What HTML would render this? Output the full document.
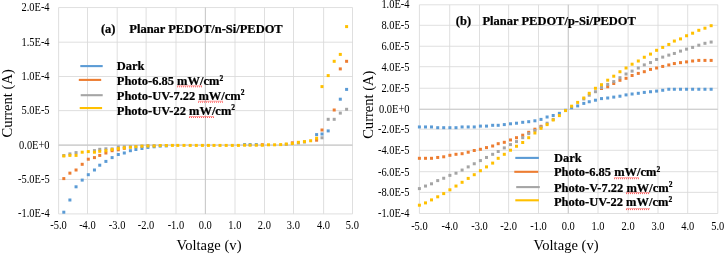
<!DOCTYPE html>
<html><head><meta charset="utf-8"><title>I-V curves</title>
<style>html,body{margin:0;padding:0;background:#fff;}svg{display:block;will-change:transform;}text{font-family:"Liberation Serif","DejaVu Serif",serif;fill:#000;}</style>
</head><body>
<svg width="725" height="254" viewBox="0 0 725 254">
<rect x="0" y="0" width="725" height="254" fill="#fff"/>
<g stroke="#D9D9D9" stroke-width="0.85" fill="none"><line x1="58.60" y1="7.56" x2="58.60" y2="213.90"/><line x1="87.50" y1="7.56" x2="87.50" y2="213.90"/><line x1="117.20" y1="7.56" x2="117.20" y2="213.90"/><line x1="146.10" y1="7.56" x2="146.10" y2="213.90"/><line x1="176.00" y1="7.56" x2="176.00" y2="213.90"/><line x1="205.40" y1="7.56" x2="205.40" y2="213.90"/><line x1="235.00" y1="7.56" x2="235.00" y2="213.90"/><line x1="264.50" y1="7.56" x2="264.50" y2="213.90"/><line x1="293.50" y1="7.56" x2="293.50" y2="213.90"/><line x1="323.60" y1="7.56" x2="323.60" y2="213.90"/><line x1="352.50" y1="7.56" x2="352.50" y2="213.90"/><line x1="58.60" y1="7.56" x2="352.50" y2="7.56"/><line x1="58.60" y1="42.20" x2="352.50" y2="42.20"/><line x1="58.60" y1="76.50" x2="352.50" y2="76.50"/><line x1="58.60" y1="110.60" x2="352.50" y2="110.60"/><line x1="58.60" y1="145.10" x2="352.50" y2="145.10"/><line x1="58.60" y1="179.45" x2="352.50" y2="179.45"/><line x1="58.60" y1="213.90" x2="352.50" y2="213.90"/></g>
<g stroke="#CACACA" stroke-width="1.05" fill="none"><line x1="205.40" y1="7.56" x2="205.40" y2="213.90"/><line x1="58.60" y1="145.10" x2="352.50" y2="145.10"/></g>
<text transform="translate(49.60,11.30) scale(1.0,1.1)" font-size="10.45" text-anchor="end">2.0E-4</text>
<text transform="translate(49.60,46.10) scale(1.0,1.1)" font-size="10.45" text-anchor="end">1.5E-4</text>
<text transform="translate(49.60,79.70) scale(1.0,1.1)" font-size="10.45" text-anchor="end">1.0E-4</text>
<text transform="translate(49.60,113.90) scale(1.0,1.1)" font-size="10.45" text-anchor="end">5.0E-5</text>
<text transform="translate(49.60,148.50) scale(1.0,1.1)" font-size="10.45" text-anchor="end">0.0E+0</text>
<text transform="translate(49.60,183.00) scale(1.0,1.1)" font-size="10.45" text-anchor="end">-5.0E-5</text>
<text transform="translate(49.60,216.90) scale(1.0,1.1)" font-size="10.45" text-anchor="end">-1.0E-4</text>
<text transform="translate(58.50,229.30) scale(1.0,1.1)" font-size="10.45" text-anchor="middle">-5.0</text>
<text transform="translate(87.40,229.30) scale(1.0,1.1)" font-size="10.45" text-anchor="middle">-4.0</text>
<text transform="translate(117.10,229.30) scale(1.0,1.1)" font-size="10.45" text-anchor="middle">-3.0</text>
<text transform="translate(146.00,229.30) scale(1.0,1.1)" font-size="10.45" text-anchor="middle">-2.0</text>
<text transform="translate(175.90,229.30) scale(1.0,1.1)" font-size="10.45" text-anchor="middle">-1.0</text>
<text transform="translate(205.30,229.30) scale(1.0,1.1)" font-size="10.45" text-anchor="middle">0.0</text>
<text transform="translate(234.90,229.30) scale(1.0,1.1)" font-size="10.45" text-anchor="middle">1.0</text>
<text transform="translate(264.40,229.30) scale(1.0,1.1)" font-size="10.45" text-anchor="middle">2.0</text>
<text transform="translate(293.40,229.30) scale(1.0,1.1)" font-size="10.45" text-anchor="middle">3.0</text>
<text transform="translate(323.50,229.30) scale(1.0,1.1)" font-size="10.45" text-anchor="middle">4.0</text>
<text transform="translate(352.40,229.30) scale(1.0,1.1)" font-size="10.45" text-anchor="middle">5.0</text>
<text transform="translate(209.00,249.60) scale(1.0,0.97)" font-size="14.6" text-anchor="middle">Voltage (v)</text>
<text transform="translate(12.4,103.4) rotate(-90)" font-size="14.55" text-anchor="middle">Current (A)</text>
<g fill="#5B9BD5"><rect x="62.30" y="210.70" width="3.0" height="3.0"/><rect x="68.40" y="198.50" width="3.0" height="3.0"/><rect x="74.55" y="185.30" width="3.0" height="3.0"/><rect x="80.70" y="178.60" width="3.0" height="3.0"/><rect x="86.80" y="173.20" width="3.0" height="3.0"/><rect x="92.95" y="168.50" width="3.0" height="3.0"/><rect x="98.25" y="163.70" width="3.0" height="3.0"/><rect x="104.40" y="159.90" width="3.0" height="3.0"/><rect x="110.60" y="156.10" width="3.0" height="3.0"/><rect x="116.80" y="153.00" width="3.0" height="3.0"/><rect x="122.80" y="151.50" width="3.0" height="3.0"/><rect x="128.90" y="149.20" width="3.0" height="3.0"/><rect x="134.40" y="148.00" width="3.0" height="3.0"/><rect x="140.45" y="147.00" width="3.0" height="3.0"/><rect x="146.40" y="145.90" width="3.0" height="3.0"/><rect x="152.60" y="145.30" width="3.0" height="3.0"/><rect x="158.70" y="144.60" width="3.0" height="3.0"/><rect x="164.80" y="144.40" width="3.0" height="3.0"/><rect x="243.10" y="143.10" width="3.0" height="3.0"/><rect x="248.60" y="143.10" width="3.0" height="3.0"/><rect x="254.80" y="143.10" width="3.0" height="3.0"/><rect x="315.10" y="133.10" width="3.0" height="3.0"/><rect x="320.50" y="132.50" width="3.0" height="3.0"/><rect x="326.70" y="129.40" width="3.0" height="3.0"/><rect x="338.80" y="97.70" width="3.0" height="3.0"/><rect x="345.10" y="87.90" width="3.0" height="3.0"/></g>
<g fill="#ED7D31"><rect x="62.30" y="177.10" width="3.0" height="3.0"/><rect x="68.40" y="171.65" width="3.0" height="3.0"/><rect x="74.55" y="168.50" width="3.0" height="3.0"/><rect x="80.70" y="162.80" width="3.0" height="3.0"/><rect x="86.80" y="157.70" width="3.0" height="3.0"/><rect x="92.95" y="156.10" width="3.0" height="3.0"/><rect x="98.25" y="153.90" width="3.0" height="3.0"/><rect x="104.40" y="151.50" width="3.0" height="3.0"/><rect x="110.60" y="149.20" width="3.0" height="3.0"/><rect x="116.80" y="148.30" width="3.0" height="3.0"/><rect x="122.80" y="146.80" width="3.0" height="3.0"/><rect x="260.80" y="143.20" width="3.0" height="3.0"/><rect x="290.85" y="141.30" width="3.0" height="3.0"/><rect x="315.10" y="138.70" width="3.0" height="3.0"/><rect x="320.50" y="128.50" width="3.0" height="3.0"/><rect x="332.70" y="108.50" width="3.0" height="3.0"/><rect x="338.80" y="67.40" width="3.0" height="3.0"/><rect x="345.10" y="59.80" width="3.0" height="3.0"/></g>
<g fill="#A5A5A5"><rect x="62.30" y="154.00" width="3.0" height="3.0"/><rect x="68.40" y="152.40" width="3.0" height="3.0"/><rect x="74.55" y="151.10" width="3.0" height="3.0"/><rect x="92.95" y="149.10" width="3.0" height="3.0"/><rect x="98.25" y="147.80" width="3.0" height="3.0"/><rect x="104.40" y="147.30" width="3.0" height="3.0"/><rect x="110.60" y="147.40" width="3.0" height="3.0"/><rect x="116.80" y="145.50" width="3.0" height="3.0"/><rect x="122.80" y="145.30" width="3.0" height="3.0"/><rect x="128.90" y="145.20" width="3.0" height="3.0"/><rect x="134.40" y="145.00" width="3.0" height="3.0"/><rect x="140.45" y="144.60" width="3.0" height="3.0"/><rect x="146.40" y="144.20" width="3.0" height="3.0"/><rect x="152.60" y="144.20" width="3.0" height="3.0"/><rect x="284.80" y="142.90" width="3.0" height="3.0"/><rect x="296.90" y="141.50" width="3.0" height="3.0"/><rect x="302.95" y="140.50" width="3.0" height="3.0"/><rect x="320.50" y="136.30" width="3.0" height="3.0"/><rect x="326.70" y="117.80" width="3.0" height="3.0"/><rect x="332.70" y="117.80" width="3.0" height="3.0"/><rect x="338.80" y="111.60" width="3.0" height="3.0"/><rect x="345.10" y="107.80" width="3.0" height="3.0"/></g>
<g fill="#FFC000"><rect x="62.30" y="154.50" width="3.0" height="3.0"/><rect x="68.40" y="153.90" width="3.0" height="3.0"/><rect x="74.55" y="153.90" width="3.0" height="3.0"/><rect x="80.70" y="150.70" width="3.0" height="3.0"/><rect x="86.80" y="150.10" width="3.0" height="3.0"/><rect x="92.95" y="150.70" width="3.0" height="3.0"/><rect x="98.25" y="149.80" width="3.0" height="3.0"/><rect x="104.40" y="149.20" width="3.0" height="3.0"/><rect x="110.60" y="148.00" width="3.0" height="3.0"/><rect x="116.80" y="147.10" width="3.0" height="3.0"/><rect x="122.80" y="146.30" width="3.0" height="3.0"/><rect x="128.90" y="145.80" width="3.0" height="3.0"/><rect x="134.40" y="145.20" width="3.0" height="3.0"/><rect x="140.45" y="144.70" width="3.0" height="3.0"/><rect x="146.40" y="144.50" width="3.0" height="3.0"/><rect x="152.60" y="144.50" width="3.0" height="3.0"/><rect x="158.70" y="144.00" width="3.0" height="3.0"/><rect x="164.80" y="144.00" width="3.0" height="3.0"/><rect x="170.90" y="143.90" width="3.0" height="3.0"/><rect x="176.30" y="143.90" width="3.0" height="3.0"/><rect x="182.50" y="143.90" width="3.0" height="3.0"/><rect x="188.70" y="143.90" width="3.0" height="3.0"/><rect x="194.80" y="143.90" width="3.0" height="3.0"/><rect x="200.90" y="143.90" width="3.0" height="3.0"/><rect x="206.90" y="143.90" width="3.0" height="3.0"/><rect x="212.50" y="143.90" width="3.0" height="3.0"/><rect x="218.50" y="143.90" width="3.0" height="3.0"/><rect x="224.70" y="143.90" width="3.0" height="3.0"/><rect x="230.80" y="143.90" width="3.0" height="3.0"/><rect x="236.90" y="143.90" width="3.0" height="3.0"/><rect x="243.10" y="143.70" width="3.0" height="3.0"/><rect x="248.60" y="143.70" width="3.0" height="3.0"/><rect x="254.80" y="143.70" width="3.0" height="3.0"/><rect x="260.80" y="143.70" width="3.0" height="3.0"/><rect x="267.00" y="143.30" width="3.0" height="3.0"/><rect x="273.10" y="143.30" width="3.0" height="3.0"/><rect x="279.15" y="143.10" width="3.0" height="3.0"/><rect x="284.80" y="142.50" width="3.0" height="3.0"/><rect x="290.85" y="142.05" width="3.0" height="3.0"/><rect x="296.90" y="140.80" width="3.0" height="3.0"/><rect x="302.95" y="140.10" width="3.0" height="3.0"/><rect x="309.15" y="139.25" width="3.0" height="3.0"/><rect x="315.10" y="136.70" width="3.0" height="3.0"/><rect x="320.50" y="85.10" width="3.0" height="3.0"/><rect x="326.70" y="74.10" width="3.0" height="3.0"/><rect x="332.70" y="59.80" width="3.0" height="3.0"/><rect x="338.80" y="52.90" width="3.0" height="3.0"/><rect x="345.10" y="25.10" width="3.0" height="3.0"/></g>
<text transform="translate(100.90,32.60) scale(1.0,1.05)" font-size="12.5" text-anchor="start" font-weight="bold" stroke="#000" stroke-width="0.22">(a)</text>
<text transform="translate(129.30,32.60) scale(1.0,1.05)" font-size="12.5" text-anchor="start" font-weight="bold" stroke="#000" stroke-width="0.22">Planar PEDOT/n-Si/PEDOT</text>
<line x1="80.3" y1="66.1" x2="102.7" y2="66.1" stroke="#5B9BD5" stroke-width="2.1"/>
<text transform="translate(116.80,69.80) scale(1.0,1.05)" font-size="12.5" text-anchor="start" font-weight="bold" stroke="#000" stroke-width="0.22">Dark</text>
<line x1="78.8" y1="79.9" x2="101.2" y2="79.9" stroke="#ED7D31" stroke-width="2.1"/>
<text transform="translate(116.80,84.60) scale(1.0,1.05)" font-size="12.5" text-anchor="start" font-weight="bold" stroke="#000" stroke-width="0.22">Photo-6.85 mW/cm<tspan font-size="7.5" dy="-3.9">2</tspan></text>
<line x1="80.7" y1="95.2" x2="102.7" y2="95.2" stroke="#A5A5A5" stroke-width="2.1"/>
<text transform="translate(116.80,99.50) scale(1.0,1.05)" font-size="12.5" text-anchor="start" font-weight="bold" stroke="#000" stroke-width="0.22">Photo-UV-7.22 mW/cm<tspan font-size="7.5" dy="-3.9">2</tspan></text>
<line x1="79.7" y1="108.05" x2="102.1" y2="108.05" stroke="#FFC000" stroke-width="2.1"/>
<text transform="translate(116.80,114.50) scale(1.0,1.05)" font-size="12.5" text-anchor="start" font-weight="bold" stroke="#000" stroke-width="0.22">Photo-UV-22 mW/cm<tspan font-size="7.5" dy="-3.9">2</tspan></text>
<g fill="#FF1A1A" fill-opacity="0.42"><rect x="177" y="85.30" width="1" height="1"/><rect x="178" y="85.30" width="1" height="1"/><rect x="179" y="85.30" width="1" height="1"/><rect x="180" y="85.30" width="1" height="1"/><rect x="181" y="85.30" width="1" height="1"/><rect x="182" y="85.30" width="1" height="1"/><rect x="183" y="85.30" width="1" height="1"/><rect x="184" y="85.30" width="1" height="1"/><rect x="185" y="85.30" width="1" height="1"/><rect x="186" y="85.30" width="1" height="1"/><rect x="187" y="85.30" width="1" height="1"/><rect x="188" y="85.30" width="1" height="1"/><rect x="189" y="85.30" width="1" height="1"/><rect x="190" y="85.30" width="1" height="1"/><rect x="191" y="85.30" width="1" height="1"/><rect x="192" y="85.30" width="1" height="1"/><rect x="193" y="85.30" width="1" height="1"/><rect x="194" y="85.30" width="1" height="1"/><rect x="195" y="85.30" width="1" height="1"/><rect x="196" y="85.30" width="1" height="1"/><rect x="197" y="85.30" width="1" height="1"/><rect x="198" y="85.30" width="1" height="1"/><rect x="199" y="85.30" width="1" height="1"/><rect x="200" y="85.30" width="1" height="1"/><rect x="201" y="85.30" width="1" height="1"/></g><g fill="#FF1A1A" fill-opacity="0.72"><rect x="177" y="86.30" width="1" height="1"/><rect x="179" y="86.30" width="1" height="1"/><rect x="181" y="86.30" width="1" height="1"/><rect x="183" y="86.30" width="1" height="1"/><rect x="185" y="86.30" width="1" height="1"/><rect x="187" y="86.30" width="1" height="1"/><rect x="189" y="86.30" width="1" height="1"/><rect x="191" y="86.30" width="1" height="1"/><rect x="193" y="86.30" width="1" height="1"/><rect x="195" y="86.30" width="1" height="1"/><rect x="197" y="86.30" width="1" height="1"/><rect x="199" y="86.30" width="1" height="1"/><rect x="201" y="86.30" width="1" height="1"/></g>
<g fill="#FF1A1A" fill-opacity="0.42"><rect x="198" y="100.70" width="1" height="1"/><rect x="199" y="100.70" width="1" height="1"/><rect x="200" y="100.70" width="1" height="1"/><rect x="201" y="100.70" width="1" height="1"/><rect x="202" y="100.70" width="1" height="1"/><rect x="203" y="100.70" width="1" height="1"/><rect x="204" y="100.70" width="1" height="1"/><rect x="205" y="100.70" width="1" height="1"/><rect x="206" y="100.70" width="1" height="1"/><rect x="207" y="100.70" width="1" height="1"/><rect x="208" y="100.70" width="1" height="1"/><rect x="209" y="100.70" width="1" height="1"/><rect x="210" y="100.70" width="1" height="1"/><rect x="211" y="100.70" width="1" height="1"/><rect x="212" y="100.70" width="1" height="1"/><rect x="213" y="100.70" width="1" height="1"/><rect x="214" y="100.70" width="1" height="1"/><rect x="215" y="100.70" width="1" height="1"/><rect x="216" y="100.70" width="1" height="1"/><rect x="217" y="100.70" width="1" height="1"/><rect x="218" y="100.70" width="1" height="1"/><rect x="219" y="100.70" width="1" height="1"/><rect x="220" y="100.70" width="1" height="1"/><rect x="221" y="100.70" width="1" height="1"/><rect x="222" y="100.70" width="1" height="1"/></g><g fill="#FF1A1A" fill-opacity="0.72"><rect x="198" y="101.70" width="1" height="1"/><rect x="200" y="101.70" width="1" height="1"/><rect x="202" y="101.70" width="1" height="1"/><rect x="204" y="101.70" width="1" height="1"/><rect x="206" y="101.70" width="1" height="1"/><rect x="208" y="101.70" width="1" height="1"/><rect x="210" y="101.70" width="1" height="1"/><rect x="212" y="101.70" width="1" height="1"/><rect x="214" y="101.70" width="1" height="1"/><rect x="216" y="101.70" width="1" height="1"/><rect x="218" y="101.70" width="1" height="1"/><rect x="220" y="101.70" width="1" height="1"/><rect x="222" y="101.70" width="1" height="1"/></g>
<g fill="#FF1A1A" fill-opacity="0.42"><rect x="189" y="116.00" width="1" height="1"/><rect x="190" y="116.00" width="1" height="1"/><rect x="191" y="116.00" width="1" height="1"/><rect x="192" y="116.00" width="1" height="1"/><rect x="193" y="116.00" width="1" height="1"/><rect x="194" y="116.00" width="1" height="1"/><rect x="195" y="116.00" width="1" height="1"/><rect x="196" y="116.00" width="1" height="1"/><rect x="197" y="116.00" width="1" height="1"/><rect x="198" y="116.00" width="1" height="1"/><rect x="199" y="116.00" width="1" height="1"/><rect x="200" y="116.00" width="1" height="1"/><rect x="201" y="116.00" width="1" height="1"/><rect x="202" y="116.00" width="1" height="1"/><rect x="203" y="116.00" width="1" height="1"/><rect x="204" y="116.00" width="1" height="1"/><rect x="205" y="116.00" width="1" height="1"/><rect x="206" y="116.00" width="1" height="1"/><rect x="207" y="116.00" width="1" height="1"/><rect x="208" y="116.00" width="1" height="1"/><rect x="209" y="116.00" width="1" height="1"/><rect x="210" y="116.00" width="1" height="1"/><rect x="211" y="116.00" width="1" height="1"/><rect x="212" y="116.00" width="1" height="1"/><rect x="213" y="116.00" width="1" height="1"/></g><g fill="#FF1A1A" fill-opacity="0.72"><rect x="189" y="117.00" width="1" height="1"/><rect x="191" y="117.00" width="1" height="1"/><rect x="193" y="117.00" width="1" height="1"/><rect x="195" y="117.00" width="1" height="1"/><rect x="197" y="117.00" width="1" height="1"/><rect x="199" y="117.00" width="1" height="1"/><rect x="201" y="117.00" width="1" height="1"/><rect x="203" y="117.00" width="1" height="1"/><rect x="205" y="117.00" width="1" height="1"/><rect x="207" y="117.00" width="1" height="1"/><rect x="209" y="117.00" width="1" height="1"/><rect x="211" y="117.00" width="1" height="1"/><rect x="213" y="117.00" width="1" height="1"/></g>
<g stroke="#D9D9D9" stroke-width="0.85" fill="none"><line x1="419.40" y1="4.80" x2="419.40" y2="213.50"/><line x1="449.70" y1="4.80" x2="449.70" y2="213.50"/><line x1="479.50" y1="4.80" x2="479.50" y2="213.50"/><line x1="508.60" y1="4.80" x2="508.60" y2="213.50"/><line x1="538.50" y1="4.80" x2="538.50" y2="213.50"/><line x1="568.30" y1="4.80" x2="568.30" y2="213.50"/><line x1="598.00" y1="4.80" x2="598.00" y2="213.50"/><line x1="628.10" y1="4.80" x2="628.10" y2="213.50"/><line x1="658.00" y1="4.80" x2="658.00" y2="213.50"/><line x1="687.70" y1="4.80" x2="687.70" y2="213.50"/><line x1="717.80" y1="4.80" x2="717.80" y2="213.50"/><line x1="419.40" y1="4.80" x2="717.80" y2="4.80"/><line x1="419.40" y1="25.30" x2="717.80" y2="25.30"/><line x1="419.40" y1="46.25" x2="717.80" y2="46.25"/><line x1="419.40" y1="66.70" x2="717.80" y2="66.70"/><line x1="419.40" y1="88.25" x2="717.80" y2="88.25"/><line x1="419.40" y1="109.30" x2="717.80" y2="109.30"/><line x1="419.40" y1="129.20" x2="717.80" y2="129.20"/><line x1="419.40" y1="150.30" x2="717.80" y2="150.30"/><line x1="419.40" y1="171.70" x2="717.80" y2="171.70"/><line x1="419.40" y1="192.35" x2="717.80" y2="192.35"/><line x1="419.40" y1="213.50" x2="717.80" y2="213.50"/></g>
<g stroke="#CACACA" stroke-width="1.05" fill="none"><line x1="568.30" y1="4.80" x2="568.30" y2="213.50"/><line x1="419.40" y1="109.15" x2="717.80" y2="109.15"/></g>
<text transform="translate(409.50,8.20) scale(1.0,1.1)" font-size="10.45" text-anchor="end">1.0E-4</text>
<text transform="translate(409.50,29.20) scale(1.0,1.1)" font-size="10.45" text-anchor="end">8.0E-5</text>
<text transform="translate(409.50,50.15) scale(1.0,1.1)" font-size="10.45" text-anchor="end">6.0E-5</text>
<text transform="translate(409.50,70.60) scale(1.0,1.1)" font-size="10.45" text-anchor="end">4.0E-5</text>
<text transform="translate(409.50,92.15) scale(1.0,1.1)" font-size="10.45" text-anchor="end">2.0E-5</text>
<text transform="translate(409.50,113.20) scale(1.0,1.1)" font-size="10.45" text-anchor="end">0.0E+0</text>
<text transform="translate(409.50,133.10) scale(1.0,1.1)" font-size="10.45" text-anchor="end">-2.0E-5</text>
<text transform="translate(409.50,154.20) scale(1.0,1.1)" font-size="10.45" text-anchor="end">-4.0E-5</text>
<text transform="translate(409.50,175.60) scale(1.0,1.1)" font-size="10.45" text-anchor="end">-6.0E-5</text>
<text transform="translate(409.50,196.25) scale(1.0,1.1)" font-size="10.45" text-anchor="end">-8.0E-5</text>
<text transform="translate(409.50,217.40) scale(1.0,1.1)" font-size="10.45" text-anchor="end">-1.0E-4</text>
<text transform="translate(419.40,230.00) scale(1.0,1.1)" font-size="10.45" text-anchor="middle">-5.0</text>
<text transform="translate(449.70,230.00) scale(1.0,1.1)" font-size="10.45" text-anchor="middle">-4.0</text>
<text transform="translate(479.50,230.00) scale(1.0,1.1)" font-size="10.45" text-anchor="middle">-3.0</text>
<text transform="translate(508.60,230.00) scale(1.0,1.1)" font-size="10.45" text-anchor="middle">-2.0</text>
<text transform="translate(538.50,230.00) scale(1.0,1.1)" font-size="10.45" text-anchor="middle">-1.0</text>
<text transform="translate(568.30,230.00) scale(1.0,1.1)" font-size="10.45" text-anchor="middle">0.0</text>
<text transform="translate(598.00,230.00) scale(1.0,1.1)" font-size="10.45" text-anchor="middle">1.0</text>
<text transform="translate(628.10,230.00) scale(1.0,1.1)" font-size="10.45" text-anchor="middle">2.0</text>
<text transform="translate(658.00,230.00) scale(1.0,1.1)" font-size="10.45" text-anchor="middle">3.0</text>
<text transform="translate(687.70,230.00) scale(1.0,1.1)" font-size="10.45" text-anchor="middle">4.0</text>
<text transform="translate(717.80,230.00) scale(1.0,1.1)" font-size="10.45" text-anchor="middle">5.0</text>
<text transform="translate(566.10,249.60) scale(1.0,0.97)" font-size="14.6" text-anchor="middle">Voltage (v)</text>
<text transform="translate(373.4,104.7) rotate(-90)" font-size="14.55" text-anchor="middle">Current (A)</text>
<g fill="#5B9BD5"><rect x="417.90" y="125.45" width="3.0" height="3.0"/><rect x="424.00" y="125.45" width="3.0" height="3.0"/><rect x="430.00" y="125.45" width="3.0" height="3.0"/><rect x="436.20" y="126.20" width="3.0" height="3.0"/><rect x="442.20" y="126.20" width="3.0" height="3.0"/><rect x="448.40" y="126.20" width="3.0" height="3.0"/><rect x="454.50" y="126.20" width="3.0" height="3.0"/><rect x="460.60" y="125.45" width="3.0" height="3.0"/><rect x="466.70" y="125.45" width="3.0" height="3.0"/><rect x="472.75" y="125.45" width="3.0" height="3.0"/><rect x="478.90" y="124.60" width="3.0" height="3.0"/><rect x="485.00" y="124.60" width="3.0" height="3.0"/><rect x="491.15" y="123.80" width="3.0" height="3.0"/><rect x="496.70" y="123.80" width="3.0" height="3.0"/><rect x="502.80" y="123.10" width="3.0" height="3.0"/><rect x="509.00" y="122.30" width="3.0" height="3.0"/><rect x="515.00" y="121.70" width="3.0" height="3.0"/><rect x="521.20" y="120.80" width="3.0" height="3.0"/><rect x="527.20" y="120.20" width="3.0" height="3.0"/><rect x="533.40" y="119.30" width="3.0" height="3.0"/><rect x="539.50" y="117.90" width="3.0" height="3.0"/><rect x="545.60" y="115.50" width="3.0" height="3.0"/><rect x="551.70" y="114.00" width="3.0" height="3.0"/><rect x="557.90" y="111.85" width="3.0" height="3.0"/><rect x="564.05" y="108.80" width="3.0" height="3.0"/><rect x="570.10" y="106.30" width="3.0" height="3.0"/><rect x="576.15" y="104.40" width="3.0" height="3.0"/><rect x="582.30" y="101.90" width="3.0" height="3.0"/><rect x="587.75" y="100.25" width="3.0" height="3.0"/><rect x="593.95" y="98.70" width="3.0" height="3.0"/><rect x="600.00" y="97.10" width="3.0" height="3.0"/><rect x="606.20" y="96.50" width="3.0" height="3.0"/><rect x="612.25" y="95.60" width="3.0" height="3.0"/><rect x="618.45" y="94.70" width="3.0" height="3.0"/><rect x="624.55" y="93.40" width="3.0" height="3.0"/><rect x="630.60" y="92.50" width="3.0" height="3.0"/><rect x="636.80" y="91.80" width="3.0" height="3.0"/><rect x="642.80" y="90.90" width="3.0" height="3.0"/><rect x="649.00" y="90.25" width="3.0" height="3.0"/><rect x="655.10" y="89.60" width="3.0" height="3.0"/><rect x="661.20" y="88.75" width="3.0" height="3.0"/><rect x="667.30" y="87.75" width="3.0" height="3.0"/><rect x="672.85" y="87.75" width="3.0" height="3.0"/><rect x="679.00" y="87.75" width="3.0" height="3.0"/><rect x="685.05" y="87.75" width="3.0" height="3.0"/><rect x="691.10" y="87.75" width="3.0" height="3.0"/><rect x="697.30" y="87.75" width="3.0" height="3.0"/><rect x="703.45" y="87.75" width="3.0" height="3.0"/><rect x="709.65" y="87.75" width="3.0" height="3.0"/></g>
<g fill="#ED7D31"><rect x="417.90" y="156.80" width="3.0" height="3.0"/><rect x="424.00" y="156.80" width="3.0" height="3.0"/><rect x="430.00" y="156.80" width="3.0" height="3.0"/><rect x="436.20" y="155.95" width="3.0" height="3.0"/><rect x="442.20" y="155.30" width="3.0" height="3.0"/><rect x="448.40" y="153.80" width="3.0" height="3.0"/><rect x="454.50" y="152.80" width="3.0" height="3.0"/><rect x="460.60" y="152.20" width="3.0" height="3.0"/><rect x="466.70" y="150.70" width="3.0" height="3.0"/><rect x="472.75" y="149.00" width="3.0" height="3.0"/><rect x="478.90" y="147.80" width="3.0" height="3.0"/><rect x="485.00" y="146.10" width="3.0" height="3.0"/><rect x="491.15" y="144.50" width="3.0" height="3.0"/><rect x="496.70" y="142.20" width="3.0" height="3.0"/><rect x="502.80" y="140.80" width="3.0" height="3.0"/><rect x="509.00" y="138.45" width="3.0" height="3.0"/><rect x="515.00" y="136.20" width="3.0" height="3.0"/><rect x="521.20" y="133.70" width="3.0" height="3.0"/><rect x="527.20" y="130.80" width="3.0" height="3.0"/><rect x="533.40" y="127.70" width="3.0" height="3.0"/><rect x="539.50" y="124.80" width="3.0" height="3.0"/><rect x="600.00" y="87.00" width="3.0" height="3.0"/><rect x="606.20" y="85.25" width="3.0" height="3.0"/><rect x="612.25" y="82.00" width="3.0" height="3.0"/><rect x="618.45" y="78.80" width="3.0" height="3.0"/><rect x="624.55" y="76.80" width="3.0" height="3.0"/><rect x="630.60" y="74.00" width="3.0" height="3.0"/><rect x="636.80" y="71.90" width="3.0" height="3.0"/><rect x="642.80" y="70.20" width="3.0" height="3.0"/><rect x="649.00" y="67.90" width="3.0" height="3.0"/><rect x="655.10" y="66.50" width="3.0" height="3.0"/><rect x="661.20" y="64.95" width="3.0" height="3.0"/><rect x="667.30" y="63.45" width="3.0" height="3.0"/><rect x="672.85" y="62.05" width="3.0" height="3.0"/><rect x="679.00" y="61.15" width="3.0" height="3.0"/><rect x="685.05" y="60.40" width="3.0" height="3.0"/><rect x="691.10" y="59.50" width="3.0" height="3.0"/><rect x="697.30" y="58.90" width="3.0" height="3.0"/><rect x="703.45" y="58.90" width="3.0" height="3.0"/><rect x="709.65" y="58.90" width="3.0" height="3.0"/></g>
<g fill="#A5A5A5"><rect x="417.90" y="187.10" width="3.0" height="3.0"/><rect x="424.00" y="184.55" width="3.0" height="3.0"/><rect x="430.00" y="182.30" width="3.0" height="3.0"/><rect x="436.20" y="179.10" width="3.0" height="3.0"/><rect x="442.20" y="176.75" width="3.0" height="3.0"/><rect x="448.40" y="173.85" width="3.0" height="3.0"/><rect x="454.50" y="171.70" width="3.0" height="3.0"/><rect x="460.60" y="168.55" width="3.0" height="3.0"/><rect x="466.70" y="165.40" width="3.0" height="3.0"/><rect x="472.75" y="162.25" width="3.0" height="3.0"/><rect x="478.90" y="159.10" width="3.0" height="3.0"/><rect x="485.00" y="155.95" width="3.0" height="3.0"/><rect x="491.15" y="152.80" width="3.0" height="3.0"/><rect x="496.70" y="150.00" width="3.0" height="3.0"/><rect x="502.80" y="146.40" width="3.0" height="3.0"/><rect x="509.00" y="143.10" width="3.0" height="3.0"/><rect x="515.00" y="140.10" width="3.0" height="3.0"/><rect x="521.20" y="136.20" width="3.0" height="3.0"/><rect x="527.20" y="132.15" width="3.0" height="3.0"/><rect x="533.40" y="129.00" width="3.0" height="3.0"/><rect x="539.50" y="125.50" width="3.0" height="3.0"/><rect x="545.60" y="121.70" width="3.0" height="3.0"/><rect x="551.70" y="117.90" width="3.0" height="3.0"/><rect x="582.30" y="97.50" width="3.0" height="3.0"/><rect x="587.75" y="93.70" width="3.0" height="3.0"/><rect x="593.95" y="90.20" width="3.0" height="3.0"/><rect x="600.00" y="86.00" width="3.0" height="3.0"/><rect x="606.20" y="82.90" width="3.0" height="3.0"/><rect x="612.25" y="80.10" width="3.0" height="3.0"/><rect x="618.45" y="76.20" width="3.0" height="3.0"/><rect x="624.55" y="72.50" width="3.0" height="3.0"/><rect x="630.60" y="69.60" width="3.0" height="3.0"/><rect x="636.80" y="66.50" width="3.0" height="3.0"/><rect x="642.80" y="63.40" width="3.0" height="3.0"/><rect x="649.00" y="61.10" width="3.0" height="3.0"/><rect x="655.10" y="57.95" width="3.0" height="3.0"/><rect x="661.20" y="55.60" width="3.0" height="3.0"/><rect x="667.30" y="53.60" width="3.0" height="3.0"/><rect x="672.85" y="51.95" width="3.0" height="3.0"/><rect x="679.00" y="49.60" width="3.0" height="3.0"/><rect x="685.05" y="47.65" width="3.0" height="3.0"/><rect x="691.10" y="45.90" width="3.0" height="3.0"/><rect x="697.30" y="43.70" width="3.0" height="3.0"/><rect x="703.45" y="41.80" width="3.0" height="3.0"/><rect x="709.65" y="40.55" width="3.0" height="3.0"/></g>
<g fill="#FFC000"><rect x="417.90" y="203.70" width="3.0" height="3.0"/><rect x="424.00" y="201.40" width="3.0" height="3.0"/><rect x="430.00" y="198.40" width="3.0" height="3.0"/><rect x="436.20" y="195.30" width="3.0" height="3.0"/><rect x="442.20" y="192.10" width="3.0" height="3.0"/><rect x="448.40" y="188.30" width="3.0" height="3.0"/><rect x="454.50" y="184.55" width="3.0" height="3.0"/><rect x="460.60" y="180.80" width="3.0" height="3.0"/><rect x="466.70" y="176.90" width="3.0" height="3.0"/><rect x="472.75" y="173.20" width="3.0" height="3.0"/><rect x="478.90" y="169.20" width="3.0" height="3.0"/><rect x="485.00" y="165.40" width="3.0" height="3.0"/><rect x="491.15" y="161.60" width="3.0" height="3.0"/><rect x="496.70" y="156.80" width="3.0" height="3.0"/><rect x="502.80" y="152.80" width="3.0" height="3.0"/><rect x="509.00" y="148.70" width="3.0" height="3.0"/><rect x="515.00" y="144.75" width="3.0" height="3.0"/><rect x="521.20" y="141.00" width="3.0" height="3.0"/><rect x="527.20" y="136.20" width="3.0" height="3.0"/><rect x="533.40" y="131.50" width="3.0" height="3.0"/><rect x="539.50" y="126.85" width="3.0" height="3.0"/><rect x="545.60" y="123.10" width="3.0" height="3.0"/><rect x="551.70" y="118.50" width="3.0" height="3.0"/><rect x="557.90" y="114.10" width="3.0" height="3.0"/><rect x="564.05" y="109.10" width="3.0" height="3.0"/><rect x="570.10" y="104.70" width="3.0" height="3.0"/><rect x="576.15" y="100.90" width="3.0" height="3.0"/><rect x="582.30" y="96.50" width="3.0" height="3.0"/><rect x="587.75" y="91.80" width="3.0" height="3.0"/><rect x="593.95" y="86.80" width="3.0" height="3.0"/><rect x="600.00" y="83.20" width="3.0" height="3.0"/><rect x="606.20" y="78.70" width="3.0" height="3.0"/><rect x="612.25" y="74.70" width="3.0" height="3.0"/><rect x="618.45" y="70.25" width="3.0" height="3.0"/><rect x="624.55" y="66.50" width="3.0" height="3.0"/><rect x="630.60" y="62.70" width="3.0" height="3.0"/><rect x="636.80" y="59.50" width="3.0" height="3.0"/><rect x="642.80" y="55.75" width="3.0" height="3.0"/><rect x="649.00" y="52.60" width="3.0" height="3.0"/><rect x="655.10" y="48.80" width="3.0" height="3.0"/><rect x="661.20" y="45.90" width="3.0" height="3.0"/><rect x="667.30" y="42.95" width="3.0" height="3.0"/><rect x="672.85" y="39.55" width="3.0" height="3.0"/><rect x="679.00" y="37.40" width="3.0" height="3.0"/><rect x="685.05" y="34.25" width="3.0" height="3.0"/><rect x="691.10" y="31.70" width="3.0" height="3.0"/><rect x="697.30" y="28.80" width="3.0" height="3.0"/><rect x="703.45" y="26.70" width="3.0" height="3.0"/><rect x="709.65" y="24.20" width="3.0" height="3.0"/></g>
<text transform="translate(455.80,25.20) scale(1.0,1.05)" font-size="12.5" text-anchor="start" font-weight="bold" stroke="#000" stroke-width="0.22">(b)</text>
<text transform="translate(482.50,25.20) scale(1.0,1.05)" font-size="12.5" text-anchor="start" font-weight="bold" stroke="#000" stroke-width="0.22">Planar PEDOT/p-Si/PEDOT</text>
<line x1="515.3" y1="157.9" x2="538.9" y2="157.9" stroke="#5B9BD5" stroke-width="2.1"/>
<text transform="translate(553.90,161.50) scale(1.0,1.05)" font-size="12.5" text-anchor="start" font-weight="bold" stroke="#000" stroke-width="0.22">Dark</text>
<line x1="514.3" y1="171.8" x2="538.25" y2="171.8" stroke="#ED7D31" stroke-width="2.1"/>
<text transform="translate(553.90,176.10) scale(1.0,1.05)" font-size="12.5" text-anchor="start" font-weight="bold" stroke="#000" stroke-width="0.22">Photo-6.85 mW/cm<tspan font-size="7.5" dy="-3.9">2</tspan></text>
<line x1="516.2" y1="187.1" x2="539.8" y2="187.1" stroke="#A5A5A5" stroke-width="2.1"/>
<text transform="translate(553.90,191.50) scale(1.0,1.05)" font-size="12.5" text-anchor="start" font-weight="bold" stroke="#000" stroke-width="0.22">Photo-V-7.22 mW/cm<tspan font-size="7.5" dy="-3.9">2</tspan></text>
<line x1="515.3" y1="200.3" x2="538.9" y2="200.3" stroke="#FFC000" stroke-width="2.1"/>
<text transform="translate(553.90,206.40) scale(1.0,1.05)" font-size="12.5" text-anchor="start" font-weight="bold" stroke="#000" stroke-width="0.22">Photo-UV-22 mW/cm<tspan font-size="7.5" dy="-3.9">2</tspan></text>
<g fill="#FF1A1A" fill-opacity="0.42"><rect x="614" y="177.20" width="1" height="1"/><rect x="615" y="177.20" width="1" height="1"/><rect x="616" y="177.20" width="1" height="1"/><rect x="617" y="177.20" width="1" height="1"/><rect x="618" y="177.20" width="1" height="1"/><rect x="619" y="177.20" width="1" height="1"/><rect x="620" y="177.20" width="1" height="1"/><rect x="621" y="177.20" width="1" height="1"/><rect x="622" y="177.20" width="1" height="1"/><rect x="623" y="177.20" width="1" height="1"/><rect x="624" y="177.20" width="1" height="1"/><rect x="625" y="177.20" width="1" height="1"/><rect x="626" y="177.20" width="1" height="1"/><rect x="627" y="177.20" width="1" height="1"/><rect x="628" y="177.20" width="1" height="1"/><rect x="629" y="177.20" width="1" height="1"/><rect x="630" y="177.20" width="1" height="1"/><rect x="631" y="177.20" width="1" height="1"/><rect x="632" y="177.20" width="1" height="1"/><rect x="633" y="177.20" width="1" height="1"/><rect x="634" y="177.20" width="1" height="1"/><rect x="635" y="177.20" width="1" height="1"/><rect x="636" y="177.20" width="1" height="1"/><rect x="637" y="177.20" width="1" height="1"/><rect x="638" y="177.20" width="1" height="1"/></g><g fill="#FF1A1A" fill-opacity="0.72"><rect x="614" y="178.20" width="1" height="1"/><rect x="616" y="178.20" width="1" height="1"/><rect x="618" y="178.20" width="1" height="1"/><rect x="620" y="178.20" width="1" height="1"/><rect x="622" y="178.20" width="1" height="1"/><rect x="624" y="178.20" width="1" height="1"/><rect x="626" y="178.20" width="1" height="1"/><rect x="628" y="178.20" width="1" height="1"/><rect x="630" y="178.20" width="1" height="1"/><rect x="632" y="178.20" width="1" height="1"/><rect x="634" y="178.20" width="1" height="1"/><rect x="636" y="178.20" width="1" height="1"/><rect x="638" y="178.20" width="1" height="1"/></g>
<g fill="#FF1A1A" fill-opacity="0.42"><rect x="626" y="192.10" width="1" height="1"/><rect x="627" y="192.10" width="1" height="1"/><rect x="628" y="192.10" width="1" height="1"/><rect x="629" y="192.10" width="1" height="1"/><rect x="630" y="192.10" width="1" height="1"/><rect x="631" y="192.10" width="1" height="1"/><rect x="632" y="192.10" width="1" height="1"/><rect x="633" y="192.10" width="1" height="1"/><rect x="634" y="192.10" width="1" height="1"/><rect x="635" y="192.10" width="1" height="1"/><rect x="636" y="192.10" width="1" height="1"/><rect x="637" y="192.10" width="1" height="1"/><rect x="638" y="192.10" width="1" height="1"/><rect x="639" y="192.10" width="1" height="1"/><rect x="640" y="192.10" width="1" height="1"/><rect x="641" y="192.10" width="1" height="1"/><rect x="642" y="192.10" width="1" height="1"/><rect x="643" y="192.10" width="1" height="1"/><rect x="644" y="192.10" width="1" height="1"/><rect x="645" y="192.10" width="1" height="1"/><rect x="646" y="192.10" width="1" height="1"/><rect x="647" y="192.10" width="1" height="1"/><rect x="648" y="192.10" width="1" height="1"/><rect x="649" y="192.10" width="1" height="1"/></g><g fill="#FF1A1A" fill-opacity="0.72"><rect x="626" y="193.10" width="1" height="1"/><rect x="628" y="193.10" width="1" height="1"/><rect x="630" y="193.10" width="1" height="1"/><rect x="632" y="193.10" width="1" height="1"/><rect x="634" y="193.10" width="1" height="1"/><rect x="636" y="193.10" width="1" height="1"/><rect x="638" y="193.10" width="1" height="1"/><rect x="640" y="193.10" width="1" height="1"/><rect x="642" y="193.10" width="1" height="1"/><rect x="644" y="193.10" width="1" height="1"/><rect x="646" y="193.10" width="1" height="1"/><rect x="648" y="193.10" width="1" height="1"/></g>
<g fill="#FF1A1A" fill-opacity="0.42"><rect x="626" y="208.10" width="1" height="1"/><rect x="627" y="208.10" width="1" height="1"/><rect x="628" y="208.10" width="1" height="1"/><rect x="629" y="208.10" width="1" height="1"/><rect x="630" y="208.10" width="1" height="1"/><rect x="631" y="208.10" width="1" height="1"/><rect x="632" y="208.10" width="1" height="1"/><rect x="633" y="208.10" width="1" height="1"/><rect x="634" y="208.10" width="1" height="1"/><rect x="635" y="208.10" width="1" height="1"/><rect x="636" y="208.10" width="1" height="1"/><rect x="637" y="208.10" width="1" height="1"/><rect x="638" y="208.10" width="1" height="1"/><rect x="639" y="208.10" width="1" height="1"/><rect x="640" y="208.10" width="1" height="1"/><rect x="641" y="208.10" width="1" height="1"/><rect x="642" y="208.10" width="1" height="1"/><rect x="643" y="208.10" width="1" height="1"/><rect x="644" y="208.10" width="1" height="1"/><rect x="645" y="208.10" width="1" height="1"/><rect x="646" y="208.10" width="1" height="1"/><rect x="647" y="208.10" width="1" height="1"/><rect x="648" y="208.10" width="1" height="1"/><rect x="649" y="208.10" width="1" height="1"/></g><g fill="#FF1A1A" fill-opacity="0.72"><rect x="626" y="209.10" width="1" height="1"/><rect x="628" y="209.10" width="1" height="1"/><rect x="630" y="209.10" width="1" height="1"/><rect x="632" y="209.10" width="1" height="1"/><rect x="634" y="209.10" width="1" height="1"/><rect x="636" y="209.10" width="1" height="1"/><rect x="638" y="209.10" width="1" height="1"/><rect x="640" y="209.10" width="1" height="1"/><rect x="642" y="209.10" width="1" height="1"/><rect x="644" y="209.10" width="1" height="1"/><rect x="646" y="209.10" width="1" height="1"/><rect x="648" y="209.10" width="1" height="1"/></g>
</svg></body></html>
